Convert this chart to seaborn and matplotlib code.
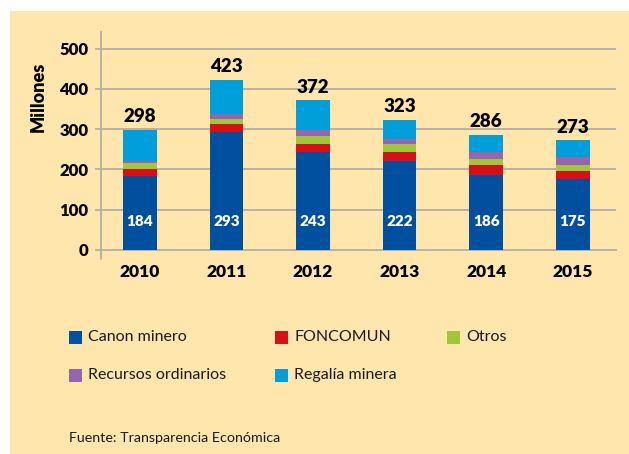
import numpy as np
import pandas as pd
import matplotlib
matplotlib.use("Agg")
import matplotlib.pyplot as plt
import seaborn as sns
from matplotlib.patches import Rectangle

years = ["2010", "2011", "2012", "2013", "2014", "2015"]
canon = [184, 293, 243, 222, 186, 175]
foncomun = [17, 20, 20, 22, 24, 22]
otros = [15, 12, 20, 20, 17, 15]
recursos = [6, 12, 15, 11, 17, 18]
regalia = [76, 86, 74, 48, 42, 43]
totals = [298, 423, 372, 323, 286, 273]
series_names = ["Canon minero", "FONCOMUN", "Otros", "Recursos ordinarios", "Regalía minera"]
series_colors = ["#0150A0", "#D70F17", "#A2C63B", "#9666AB", "#009FDB"]
yticks = [0, 100, 200, 300, 400, 500]

sns.set_theme(style="white")
plt.rcParams["font.family"] = ["Lato", "DejaVu Sans"]

BG = "#FEE6AC"
GRID = "#B3AEA3"

fig = plt.figure(figsize=(6.29, 4.54), dpi=100, facecolor="white")
fig.patches.append(Rectangle((10/629, 0), 1 - 10/629, 1 - 11/454, transform=fig.transFigure,
                             facecolor=BG, edgecolor="none", zorder=-10))
ax = fig.add_axes([101/629, 1 - 250/454, 515/629, 218/454])
ax.set_facecolor("none")

df = pd.DataFrame({"year": years, "canon": canon, "foncomun": foncomun, "otros": otros,
                   "recursos": recursos, "regalia": regalia})
cols = ["canon", "foncomun", "otros", "recursos", "regalia"]
cum = df[cols].cumsum(axis=1)

for col, color in reversed(list(zip(cols, series_colors))):
    sns.barplot(x=df["year"], y=cum[col], color=color, width=0.39, ax=ax,
                saturation=1, linewidth=0, zorder=3)

ax.set_xlim(-0.45, 5.5)
ax.set_ylim(0, 541)
ax.set_yticks(yticks)
ax.set_yticklabels([str(v) for v in yticks], fontweight="heavy", fontsize=12, color="black")
ax.set_xticks(range(len(years)))
ax.set_xticklabels(years, fontweight="heavy", fontsize=12.5, color="black")
ax.set_xlabel("")
ax.set_ylabel("")
ax.tick_params(axis="y", length=4, color=GRID, width=1.2, pad=5, left=True)
ax.tick_params(axis="x", length=0, pad=10)
for t in yticks[1:]:
    ax.axhline(t, color=GRID, lw=1.3, zorder=1)
for s in ["top", "right"]:
    ax.spines[s].set_visible(False)
ax.spines["left"].set_color(GRID)
ax.spines["left"].set_linewidth(1.3)
ax.spines["bottom"].set_color(GRID)
ax.spines["bottom"].set_linewidth(1.3)
# short extension of the value axis below the baseline
ax.plot([0, 0], [0, -9/218], transform=ax.transAxes, color=GRID, lw=1.3, clip_on=False)

for i, (t, c) in enumerate(zip(totals, canon)):
    ax.text(i, t + 11, str(t), ha="center", va="bottom", fontsize=13.5, fontweight="heavy", color="black")
    ax.text(i, 70, str(c), ha="center", va="center", fontsize=11, fontweight="heavy", color="white", zorder=5)

fig.text(38/629, 1 - 97/454, "Millones", rotation=90, ha="center", va="center",
         fontsize=13, fontweight="heavy", color="black")

# legend
pos = [(69, 337), (275, 337), (447, 337), (69, 375), (275, 375)]
for (px, py), name, color in zip(pos, series_names, series_colors):
    fig.patches.append(Rectangle((px/629, 1 - (py + 6.5)/454), 13/629, 13/454,
                                 transform=fig.transFigure, facecolor=color, edgecolor="none"))
    fig.text((px + 19)/629, 1 - py/454, name, ha="left", va="center", fontsize=11.5, color="#1A1A1A")

fig.text(69/629, 1 - 438/454, "Fuente: Transparencia Económica", ha="left", va="center",
         fontsize=10.3, color="#1A1A1A")

fig.savefig("out.png", dpi=100, facecolor="white")
